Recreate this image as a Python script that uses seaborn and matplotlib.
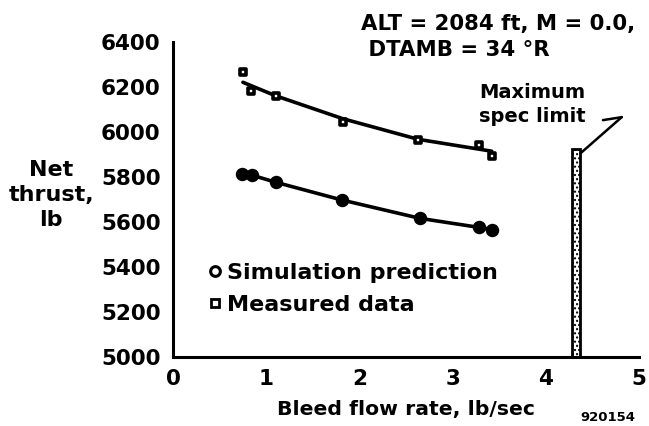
import matplotlib
matplotlib.use("Agg")
import matplotlib.pyplot as plt
from matplotlib.lines import Line2D
import seaborn as sns

sns.set_style("white")
plt.rcParams["font.family"] = ["DejaVu Sans"]
plt.rcParams["font.weight"] = "bold"
plt.rcParams["text.color"] = "black"
plt.rcParams["xtick.color"] = "black"
plt.rcParams["ytick.color"] = "black"
plt.rcParams["axes.labelcolor"] = "black"

# simulation prediction (circles)
sim_x = [0.74, 0.85, 1.10, 1.81, 2.65, 3.28, 3.42]
sim_y = [5815, 5808, 5777, 5698, 5616, 5576, 5566]

# measured data (squares)
meas_x = [0.75, 0.84, 1.10, 1.82, 2.63, 3.28, 3.42]
meas_y = [6267, 6181, 6163, 6047, 5965, 5943, 5893]

# faired curve through measured data
fit_x = [0.75, 1.10, 1.82, 2.63, 3.42]
fit_y = [6222, 6162, 6060, 5968, 5915]

# maximum spec limit
spec_x = 4.325
spec_top = 5925

fig = plt.figure(figsize=(6.49, 4.26), dpi=100)
ax = fig.add_axes([0.2666, 0.1627, 0.7180, 0.7380])

sns.lineplot(x=sim_x, y=sim_y, color="black", lw=2.6, ax=ax, sort=True)
sns.lineplot(x=fit_x, y=fit_y, color="black", lw=2.6, ax=ax, sort=True)
sns.scatterplot(x=sim_x, y=sim_y, marker="o", s=75, color="black",
                edgecolor="black", linewidth=1, ax=ax, zorder=3)
sns.scatterplot(x=meas_x, y=meas_y, marker="s", s=22, color="white",
                edgecolor="black", linewidth=2.6, ax=ax, zorder=3)

ax.bar(spec_x, spec_top - 5000, bottom=5000, width=0.09, color="white",
       edgecolor="black", linewidth=2, hatch="....", zorder=2)

ax.set_xlim(0, 5)
ax.set_ylim(5000, 6400)
ax.set_xticks([0, 1, 2, 3, 4, 5])
ax.set_yticks(range(5000, 6401, 200))
for s in ["top", "right"]:
    ax.spines[s].set_visible(False)
for s in ["left", "bottom"]:
    ax.spines[s].set_linewidth(2.2)
    ax.spines[s].set_color("black")
ax.tick_params(axis="y", direction="out", length=5, width=2, labelsize=15.5, pad=4)
ax.tick_params(axis="x", direction="in", length=5, width=2, labelsize=15.5, pad=9)
for lab in ax.get_xticklabels() + ax.get_yticklabels():
    lab.set_fontweight("bold")

ax.set_xlabel("Bleed flow rate, lb/sec", fontsize=14.7, fontweight="bold", labelpad=8)
fig.text(0.079, 0.542, "Net\nthrust,\nlb", fontsize=16, fontweight="bold",
         ha="center", va="center", linespacing=1.3)

fig.text(0.556, 0.968, "ALT = 2084 ft, M = 0.0,\n DTAMB = 34 \u00b0R", fontsize=15.3,
         fontweight="bold", ha="left", va="top", linespacing=1.38)
fig.text(0.820, 0.755, "Maximum\nspec limit", fontsize=14, fontweight="bold",
         ha="center", va="center", linespacing=1.3)
ax.annotate("", xy=(spec_x + 0.045, spec_top - 20), xytext=(0.958, 0.725),
            textcoords="figure fraction",
            arrowprops=dict(arrowstyle="-", color="black", lw=1.8,
                            shrinkA=0, shrinkB=0))
ax.annotate("", xy=(0.958, 0.725), xytext=(0.929, 0.718),
            xycoords="figure fraction", textcoords="figure fraction",
            arrowprops=dict(arrowstyle="-", color="black", lw=1.8,
                            shrinkA=0, shrinkB=0))
fig.text(0.937, 0.021, "920154", fontsize=9.5, fontweight="bold",
         ha="center", va="center")

handles = [
    Line2D([], [], marker="o", ls="none", color="black", markerfacecolor="white",
           markeredgewidth=2.2, markersize=7),
    Line2D([], [], marker="s", ls="none", color="black", markerfacecolor="white",
           markeredgewidth=2.0, markersize=6),
]
ax.legend(handles, ["Simulation prediction", "Measured data"], loc="upper left",
          bbox_to_anchor=(0.072, 0.298), frameon=False, fontsize=16,
          handletextpad=0.1, handlelength=0.8, labelspacing=0.55, borderpad=0,
          borderaxespad=0)

fig.savefig("out.png", dpi=100)
